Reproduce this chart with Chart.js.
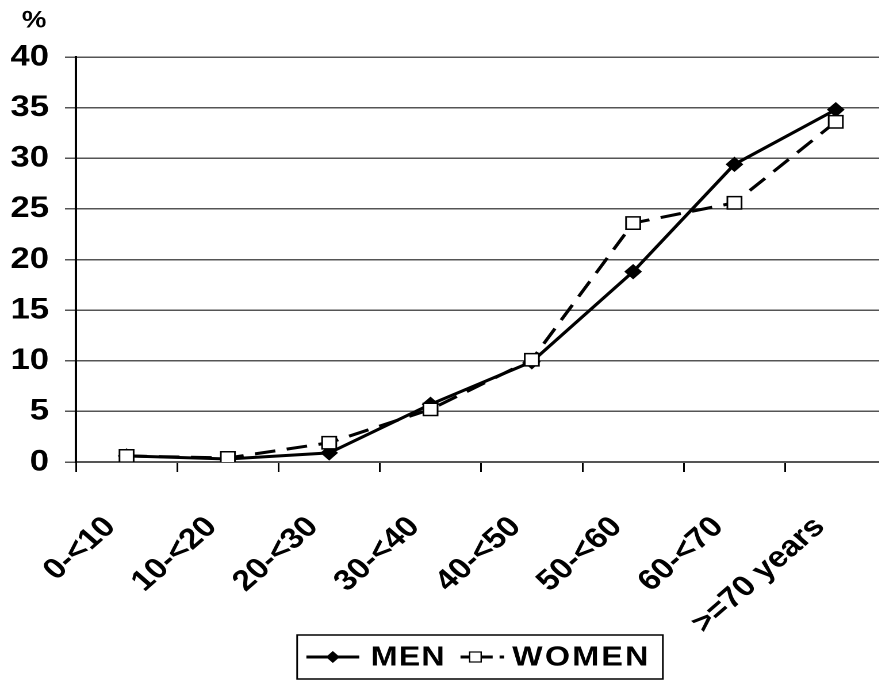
<!DOCTYPE html>
<html>
<head>
<meta charset="utf-8">
<script src="https://cdn.jsdelivr.net/npm/chart.js@4.4.1/dist/chart.umd.min.js"></script>
<style>
  html, body { margin: 0; padding: 0; background: #fff; overflow: hidden; }
  #wrap { width: 781px; height: 682px; transform: scaleX(1.15); transform-origin: 0 0; }
</style>
</head>
<body>
<div id="wrap"><canvas id="age-chart"></canvas></div>
<script>
const ageGroups = ["0-<10", "10-<20", "20-<30", "30-<40", "40-<50", "50-<60", "60-<70", ">=70 years"];
const menValues = [0.6, 0.3, 0.9, 5.7, 9.9, 18.8, 29.4, 34.8];
const womenValues = [0.6, 0.4, 1.9, 5.2, 10.1, 23.6, 25.6, 33.6];
const yTicks = [0, 5, 10, 15, 20, 25, 30, 35, 40];

const fontFamily = "'Liberation Sans', Arial, sans-serif";

// "%" over the y axis and the boxed legend under the chart
const boxLegend = {
  id: "boxLegend",
  afterDraw(chart) {
    const ctx = chart.ctx;
    const area = chart.chartArea;
    const cx = (area.left + area.right) / 2;
    ctx.save();
    ctx.fillStyle = "#000";
    ctx.font = "bold 24px " + fontFamily;
    ctx.textBaseline = "top";
    ctx.textAlign = "left";
    ctx.fillText("%", 19, 9);

    ctx.strokeStyle = "#000";
    ctx.lineWidth = 1.5;
    ctx.strokeRect(cx - 160, 635, 318, 44);

    const y = 657;
    ctx.lineWidth = 3;
    ctx.beginPath();
    ctx.moveTo(cx - 152, y);
    ctx.lineTo(cx - 106, y);
    ctx.stroke();
    ctx.beginPath();
    ctx.moveTo(cx - 129, y - 6);
    ctx.lineTo(cx - 123, y);
    ctx.lineTo(cx - 129, y + 6);
    ctx.lineTo(cx - 135, y);
    ctx.closePath();
    ctx.fill();

    ctx.setLineDash([11, 6]);
    ctx.beginPath();
    ctx.moveTo(cx - 18, y);
    ctx.lineTo(cx + 20, y);
    ctx.stroke();
    ctx.setLineDash([]);
    ctx.fillStyle = "#fff";
    ctx.lineWidth = 1.2;
    ctx.fillRect(cx - 10, y - 5, 10, 10);
    ctx.strokeRect(cx - 10, y - 5, 10, 10);

    ctx.fillStyle = "#000";
    ctx.font = "bold 28px " + fontFamily;
    ctx.textBaseline = "middle";
    ctx.letterSpacing = "1px";
    ctx.fillText("MEN", cx - 96, y + 1);
    ctx.letterSpacing = "2px";
    ctx.fillText("WOMEN", cx + 27, y + 1);
    ctx.restore();
  }
};

const ctx = document.getElementById("age-chart").getContext("2d");

const ageChart = new Chart(ctx, {
  type: "line",
  data: {
    labels: ageGroups,
    datasets: [
      {
        label: "MEN",
        data: menValues,
        order: 1,
        borderColor: "#000",
        backgroundColor: "#000",
        borderWidth: 3,
        tension: 0,
        pointStyle: "rectRot",
        pointRadius: 7,
        pointBorderWidth: 1,
        pointBackgroundColor: "#000"
      },
      {
        label: "WOMEN",
        data: womenValues,
        order: 0,
        borderColor: "#000",
        backgroundColor: "#fff",
        borderWidth: 3,
        borderDash: [18, 10],
        tension: 0,
        pointStyle: "rect",
        pointRadius: 8.7,
        pointBorderWidth: 1.5,
        pointBorderColor: "#000",
        pointBackgroundColor: "#fff"
      }
    ]
  },
  options: {
    responsive: true,
    maintainAspectRatio: false,
    animation: false,
    devicePixelRatio: 2,
    layout: { padding: { top: 57, right: 3, left: 0, bottom: 0 } },
    plugins: {
      legend: { display: false },
      tooltip: { enabled: false }
    },
    scales: {
      x: {
        offset: true,
        grid: { offset: true, drawOnChartArea: false, drawTicks: true, tickLength: 10, color: "#000", lineWidth: 1.5 },
        border: { color: "#555", width: 2 },
        ticks: {
          color: "#000",
          font: { family: fontFamily, size: 29, weight: "bold" },
          minRotation: 45,
          maxRotation: 45,
          autoSkip: false,
          padding: 38,
          labelOffset: -14
        },
        afterFit(scale) {
          scale.height = 220;
          scale.paddingLeft = 0;
          scale.paddingRight = 0;
        }
      },
      y: {
        min: 0,
        max: 40,
        afterBuildTicks(scale) { scale.ticks = yTicks.map(v => ({ value: v })); },
        grid: { color: "#555", lineWidth: 1.5, tickLength: 9.5 },
        border: { color: "#000", width: 2 },
        ticks: {
          color: "#000",
          font: { family: fontFamily, size: 30, weight: "bold" },
          padding: 14
        },
        afterFit(scale) { scale.width = 66; }
      }
    }
  },
  plugins: [boxLegend]
});
</script>
</body>
</html>
